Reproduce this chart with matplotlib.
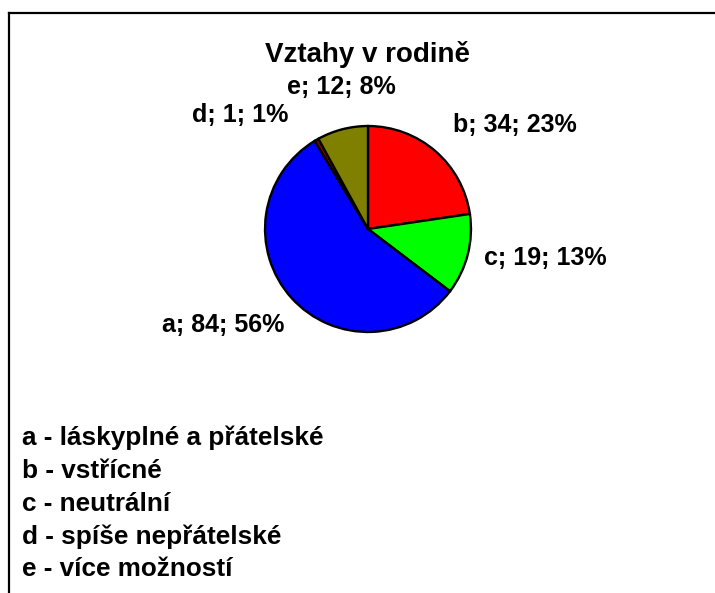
import matplotlib
matplotlib.use("Agg")
import matplotlib.pyplot as plt
from matplotlib.lines import Line2D

plt.rcParams['font.family'] = ['Liberation Sans', 'DejaVu Sans']

title = "Vztahy v rodině"
codes = ["a", "b", "c", "d", "e"]
names = ["láskyplné a přátelské", "vstřícné", "neutrální", "spíše nepřátelské", "více možností"]
counts = [84, 34, 19, 1, 12]
percents = [56, 23, 13, 1, 8]
colors = {"a": "#0000FF", "b": "#FF0000", "c": "#00FF00", "d": "#800000", "e": "#808000"}
draw_order = ["b", "c", "a", "d", "e"]  # clockwise from 12 o'clock

W, H = 715, 593
fig = plt.figure(figsize=(W / 100, H / 100), dpi=100)

def px(x, y):
    return x / W, 1 - y / H

# frame
fig.add_artist(Line2D([9 / W, 1.0], [1 - 12.5 / H] * 2, color="black", lw=1.6, transform=fig.transFigure))
fig.add_artist(Line2D([9 / W] * 2, [1 - 12.5 / H, 0], color="black", lw=1.6, transform=fig.transFigure))

# pie
cx, cy, r = 368, 229, 104
ax = fig.add_axes([(cx - r) / W, 1 - (cy + r) / H, 2 * r / W, 2 * r / H])
idx = [codes.index(c) for c in draw_order]
ax.pie([counts[i] for i in idx], colors=[colors[c] for c in draw_order],
       startangle=90, counterclock=False,
       wedgeprops=dict(edgecolor="black", linewidth=1.7))
ax.set_aspect("equal")
ax.set_xlim(-1.01, 1.01)
ax.set_ylim(-1.01, 1.01)
ax.axis("off")

fig.text(*px(368, 54), title, ha="center", va="center", fontsize=20, fontweight="bold")

label_pos = {"e": (341, 87), "d": (240, 115), "b": (515, 125), "c": (545, 258), "a": (223, 325)}
for i, c in enumerate(codes):
    x, y = label_pos[c]
    fig.text(*px(x, y), f"{c}; {counts[i]}; {percents[i]}%", ha="center", va="center",
             fontsize=18, fontweight="bold")

for i, c in enumerate(codes):
    fig.text(*px(22, 438 + i * 32.8), f"{c} - {names[i]}", ha="left", va="center",
             fontsize=18.8, fontweight="bold")

fig.savefig("out.png", dpi=100)
